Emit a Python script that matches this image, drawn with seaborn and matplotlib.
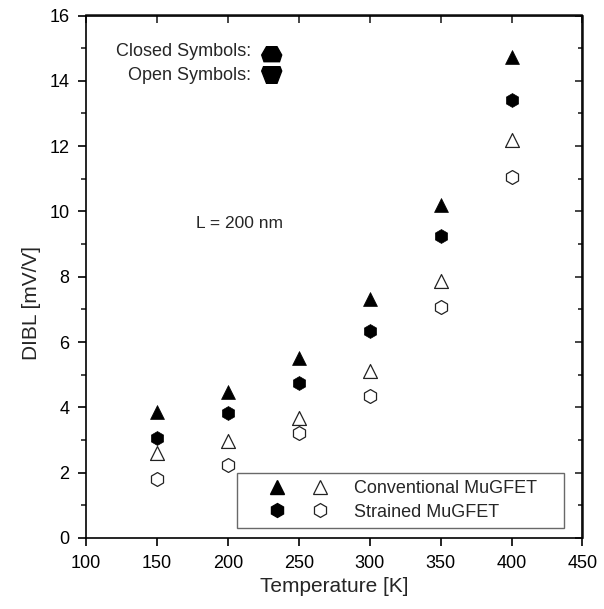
import matplotlib
matplotlib.use("Agg")
import matplotlib.pyplot as plt
from matplotlib.lines import Line2D
from matplotlib.patches import Polygon
from matplotlib.legend_handler import HandlerTuple
from matplotlib.ticker import MultipleLocator
import seaborn as sns
import pandas as pd

# ---- data ----
temperature = [150, 200, 250, 300, 350, 400]
conv_closed = [3.87, 4.46, 5.50, 7.32, 10.20, 14.74]
strained_closed = [3.07, 3.84, 4.74, 6.35, 9.26, 13.41]
conv_open = [2.61, 2.97, 3.68, 5.12, 7.87, 12.19]
strained_open = [1.81, 2.23, 3.21, 4.35, 7.08, 11.06]
legend_labels = ["Conventional MuGFET", "Strained MuGFET"]
x_ticks = [100, 150, 200, 250, 300, 350, 400, 450]
y_ticks = [0, 2, 4, 6, 8, 10, 12, 14, 16]

sns.set_style("ticks")
plt.rcParams["font.family"] = ["Liberation Sans", "DejaVu Sans"]

W, H = 604, 609
fig = plt.figure(figsize=(W / 100, H / 100), dpi=100)
ax = fig.add_axes([86 / W, 1 - 538 / H, (582.5 - 86) / W, (538 - 15.5) / H])

df = pd.DataFrame({"T": temperature, "cc": conv_closed, "sc": strained_closed,
                   "co": conv_open, "so": strained_open})

ms = 100
sns.scatterplot(data=df, x="T", y="cc", marker="^", s=ms, color="black",
                edgecolor="black", linewidth=0.5, ax=ax, legend=False, zorder=3)
sns.scatterplot(data=df, x="T", y="sc", marker="h", s=ms, color="black",
                edgecolor="black", linewidth=0.5, ax=ax, legend=False, zorder=3)
sns.scatterplot(data=df, x="T", y="co", marker="^", s=ms, facecolor="white",
                edgecolor="#222222", linewidth=0.9, ax=ax, legend=False, zorder=3)
sns.scatterplot(data=df, x="T", y="so", marker="h", s=ms, facecolor="white",
                edgecolor="#222222", linewidth=0.9, ax=ax, legend=False, zorder=3)

ax.set_xlim(100, 450)
ax.set_ylim(0, 16)
ax.set_xticks(x_ticks)
ax.set_yticks(y_ticks)
ax.yaxis.set_minor_locator(MultipleLocator(1))
for s in ax.spines.values():
    s.set_visible(True)
    s.set_linewidth(1.2)
    s.set_color("black")
ax.tick_params(axis="both", which="major", labelsize=13, width=1.2, length=6,
               direction="out", pad=6, colors="black")
ax.tick_params(axis="y", which="minor", width=1.2, length=3.5, direction="out")
ax.tick_params(right=False, top=False)

# inward ticks on the right and top
sec_y = ax.secondary_yaxis("right")
sec_y.set_yticks(y_ticks)
sec_y.yaxis.set_minor_locator(MultipleLocator(1))
sec_y.tick_params(which="major", direction="in", length=6, width=1.2, labelright=False)
sec_y.tick_params(which="minor", direction="in", length=3.5, width=1.2)
sec_y.spines["right"].set_linewidth(1.2)
sec_x = ax.secondary_xaxis("top")
sec_x.set_xticks(x_ticks)
sec_x.tick_params(direction="in", length=6, width=1.2, labeltop=False)
sec_x.spines["top"].set_linewidth(1.2)

ax.set_xlabel("Temperature [K]", fontsize=15)
ax.set_ylabel("DIBL [mV/V]", fontsize=15)
ax.yaxis.set_label_coords(-0.09, 0.45)

ax.text(239, 9.645, "L = 200 nm", fontsize=12.5, ha="right", va="center")

# legend
h_tri_c = Line2D([], [], marker="^", ls="none", color="black", markersize=10)
h_tri_o = Line2D([], [], marker="^", ls="none", mfc="white", mec="#222222",
                 mew=0.9, markersize=10)
h_hex_c = Line2D([], [], marker="h", ls="none", color="black", markersize=10)
h_hex_o = Line2D([], [], marker="h", ls="none", mfc="white", mec="#222222",
                 mew=0.9, markersize=10)
fs = 13
leg = ax.legend([(h_tri_c, h_tri_o), (h_hex_c, h_hex_o)], legend_labels,
                handler_map={tuple: HandlerTuple(ndivide=None, pad=-1.28)},
                handlelength=6.06, handletextpad=0.05, fontsize=fs,
                loc="lower left", bbox_to_anchor=(0.3035, 0.0191, 0.6592, 0.0),
                mode="expand", borderaxespad=0, borderpad=0.4, labelspacing=0.35,
                fancybox=False, frameon=True, edgecolor="#444444")
leg.get_frame().set_linewidth(1.0)

# "Closed / Open Symbols" annotations
fig.text(250.7 / W, 1 - 51.7 / H, "Closed Symbols:", ha="right", va="center", fontsize=13)
fig.text(250.7 / W, 1 - 76 / H, "Open Symbols:", ha="right", va="center", fontsize=13)

def px(pts):
    return [(x / W, 1 - y / H) for x, y in pts]

closed_icon = px([(266.5, 46.7), (277, 46.7), (281.7, 55), (279.5, 61.7),
                  (264, 61.7), (261.7, 55)])
open_icon = px([(263.5, 66.7), (280, 66.7), (281.7, 71), (277, 83.3),
                (266.5, 83.3), (261.7, 71)])
fig.patches.append(Polygon(closed_icon, closed=True, transform=fig.transFigure,
                           facecolor="black", edgecolor="black", figure=fig))
fig.patches.append(Polygon(open_icon, closed=True, transform=fig.transFigure,
                           facecolor="black", edgecolor="black", figure=fig))

fig.savefig("out.png", dpi=100)
